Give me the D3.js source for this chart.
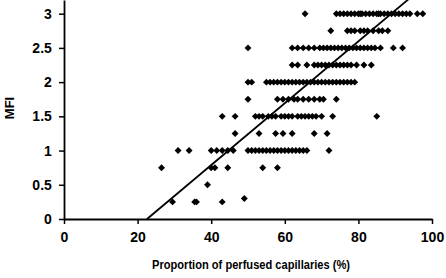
<!DOCTYPE html>
<html>
<head>
<meta charset="utf-8">
<script src="https://cdn.jsdelivr.net/npm/d3@7"></script>
<style>
  body { margin: 0; background: #fff; }
  svg { display: block; }
  text { font-family: "Liberation Sans", Arial, sans-serif; font-weight: bold; fill: #000; }
</style>
</head>
<body>
<div id="chart"></div>
<script>
// MFI score levels and the perfused-capillary % read at each level
const mfiLevels = [3, 2.75, 2.5, 2.25, 2, 1.75, 1.5, 1.25, 1, 0.75, 0.5, 0.3, 0.25];
const perfusedAtLevel = [
  [65.5, 74, 75, 76, 77, 78, 79, 80, 80.5, 81, 82, 83, 84, 85, 85.5, 86, 87, 88, 89, 90, 91, 92, 93, 94, 96, 97.5],
  [72.5, 77, 78, 79, 80.5, 81.5, 82.5, 84, 85.5, 86.5, 88],
  [50, 62, 63.5, 65, 66.5, 68, 69.5, 70.5, 71.5, 72.5, 73.5, 74.5, 75.5, 76.5, 77.5, 78.5, 79.5, 80.5, 81.5, 82.5, 83.5, 84.5, 86, 89.5, 92],
  [62, 63.5, 66, 68, 69, 70, 71, 72, 73, 74, 75, 76, 77, 78, 79.5, 81.5, 83.5],
  [50, 51, 55, 56, 57, 58, 59, 60, 61, 62, 63, 64, 65, 66, 67, 68, 69, 70, 71, 72, 73, 74, 75, 76, 77, 78, 79],
  [50, 58, 59.5, 61, 62.5, 63.5, 65, 66.5, 68, 69.5, 70.5, 74],
  [43, 46.5, 52, 53, 54, 55.5, 56.5, 57.5, 59, 60, 61, 62, 63.5, 64.5, 65.5, 66.5, 67.5, 68.5, 70, 73, 85],
  [46.5, 53, 57.5, 59.5, 62, 68, 71.5],
  [31, 34, 40, 41.5, 43, 44.5, 46, 50, 51, 52, 53, 54, 55, 56, 57, 58, 59, 60, 61, 62, 63, 64, 65, 66, 72],
  [26.5, 40, 41, 44.5, 54, 58],
  [39],
  [49],
  [29.5, 35.5, 36, 43]
];

// regression line MFI = slope * perfused + intercept
const fitSlope = 0.0452;
const fitIntercept = -1.02;

const xTicks = [0, 20, 40, 60, 80, 100];
const yTicks = [0, 0.5, 1, 1.5, 2, 2.5, 3];

const width = 446, height = 278;

const svg = d3.select("#chart").append("svg")
  .attr("width", width)
  .attr("height", height);

const x = d3.scaleLinear().domain([0, 100]).range([64, 432]);
const y = d3.scaleLinear().domain([0, 3.2]).range([219, 0]);

// flatten into points
const points = [];
mfiLevels.forEach((lvl, i) => {
  perfusedAtLevel[i].forEach(p => points.push({ p: p, m: lvl }));
});

// points
const diamond = d3.symbol().type(d3.symbolSquare).size(24);
svg.append("g").selectAll("path")
  .data(points)
  .enter().append("path")
  .attr("d", diamond)
  .attr("transform", d => "translate(" + x(d.p) + "," + y(d.m) + ") rotate(45)")
  .attr("fill", "#000");

// regression line
const x0 = -fitIntercept / fitSlope;
svg.append("line")
  .attr("x1", x(x0)).attr("y1", y(0))
  .attr("x2", x(100)).attr("y2", y(fitSlope * 100 + fitIntercept))
  .attr("stroke", "#000")
  .attr("stroke-width", 1.8);

// axes
const xAxis = d3.axisBottom(x).tickValues(xTicks).tickSize(5).tickSizeOuter(0).tickFormat(d3.format("d"));
const yAxis = d3.axisLeft(y).tickValues(yTicks).tickSize(5).tickSizeOuter(0).tickFormat(d => d);

const gx = svg.append("g")
  .attr("transform", "translate(0," + y(0) + ")")
  .call(xAxis);
const gy = svg.append("g")
  .attr("transform", "translate(" + x(0) + ",0)")
  .call(yAxis);

[gx, gy].forEach(g => {
  g.select(".domain").attr("stroke", "#000").attr("stroke-width", 1.8);
  g.selectAll(".tick line").attr("stroke", "#000").attr("stroke-width", 1.5);
  g.selectAll(".tick text")
    .attr("font-family", "'Liberation Sans', Arial, sans-serif")
    .attr("font-weight", "bold")
    .attr("font-size", "14px")
    .attr("fill", "#000");
});
gx.selectAll(".tick text").attr("dy", "1.05em");
gy.selectAll(".tick text").attr("dx", "-0.3em");

// axis titles
svg.append("text")
  .attr("x", 251)
  .attr("y", 269)
  .attr("text-anchor", "middle")
  .attr("font-size", "12.5px")
  .attr("textLength", 198)
  .attr("lengthAdjust", "spacingAndGlyphs")
  .text("Proportion of perfused capillaries (%)");

svg.append("text")
  .attr("transform", "translate(14,108) rotate(-90)")
  .attr("text-anchor", "middle")
  .attr("font-size", "13px")
  .text("MFI");
</script>
</body>
</html>
